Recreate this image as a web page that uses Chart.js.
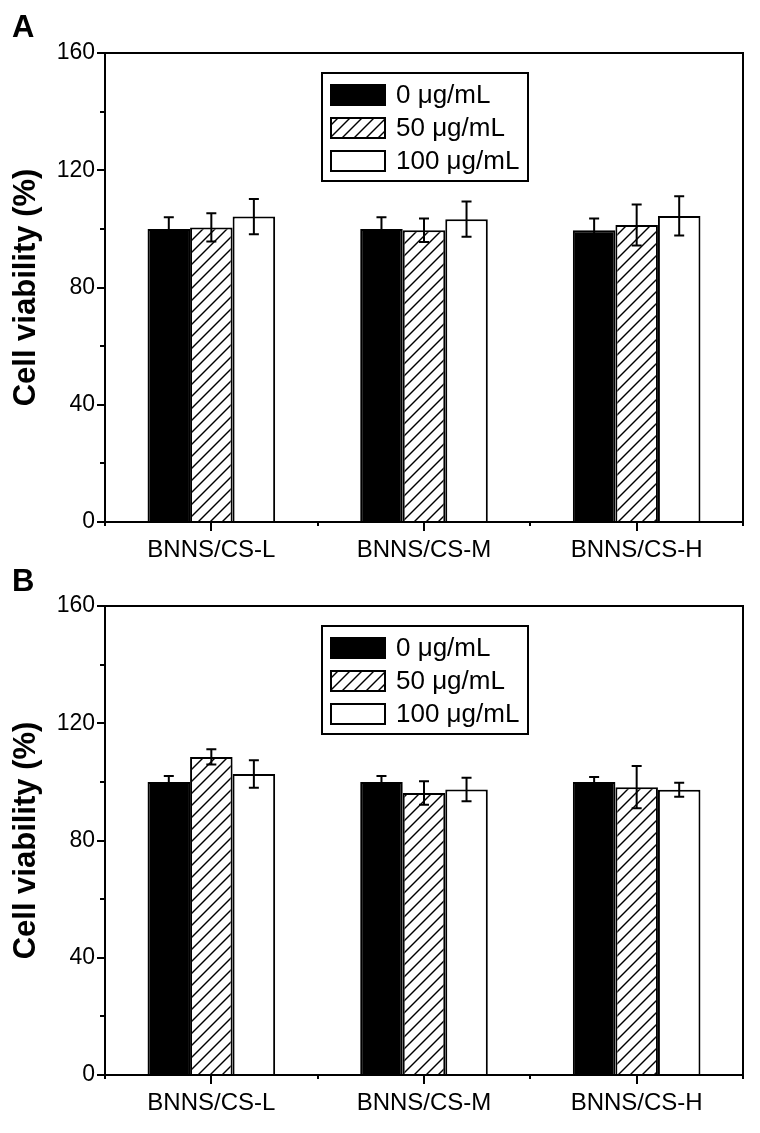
<!DOCTYPE html>
<html>
<head>
<meta charset="utf-8">
<script src="https://cdn.jsdelivr.net/npm/chart.js@4.4.1/dist/chart.umd.min.js"></script>
<style>
    body { margin: 0; background: #fff; width: 760px; height: 1133px; position: relative; overflow: hidden; font-family: 'Liberation Sans', Arial, sans-serif; }
    .panel { position: absolute; left: 0; width: 760px; height: 580px; }
    .panel canvas { display: block; }
    .tag { position: absolute; left: 12px; font-weight: bold; font-size: 31px; line-height: 31px; color: #000; }
</style>
</head>
<body>
<div class="panel" style="top:0"><canvas id="chartA" width="760" height="580"></canvas></div>
<div class="tag" style="top:11px">A</div>
<div class="panel" style="top:553px"><canvas id="chartB" width="760" height="580"></canvas></div>
<div class="tag" style="top:565px">B</div>

<script>
// categories and legend names
const categories = ['BNNS/CS-L', 'BNNS/CS-M', 'BNNS/CS-H'];
const seriesLabels = ['0 μg/mL', '50 μg/mL', '100 μg/mL'];
const yTickLabels = [0, 40, 80, 120, 160];

// panel A values (%) and error bars
const a0 = [100, 100, 99.5];
const a0Err = [4, 4, 4];
const a50 = [100.5, 99.5, 101.3];
const a50Err = [4.8, 4, 7];
const a100 = [104.2, 103.3, 104.4];
const a100Err = [6, 6, 6.7];

// panel B values (%) and error bars
const b0 = [100, 100, 100];
const b0Err = [2, 2, 1.7];
const b50 = [108.5, 96.2, 98.2];
const b50Err = [2.6, 4, 7.2];
const b100 = [102.7, 97.4, 97.3];
const b100Err = [4.7, 4, 2.4];

const fontFamily = "'Liberation Sans', Arial, Helvetica, sans-serif";
Chart.defaults.font.family = fontFamily;
Chart.defaults.color = '#000';

// diagonal "/" hatch used for the 50 ug/mL bars
const makeHatch = () => {
    const c = document.createElement('canvas');
    c.width = 12;
    c.height = 12;
    const g = c.getContext('2d');
    g.fillStyle = '#fff';
    g.fillRect(0, 0, 12, 12);
    g.strokeStyle = '#000';
    g.lineWidth = 1.4;
    [[-3, 15, 15, -3], [-3, 3, 3, -3], [9, 15, 15, 9]].forEach(([x1, y1, x2, y2]) => {
        g.beginPath();
        g.moveTo(x1, y1);
        g.lineTo(x2, y2);
        g.stroke();
    });
    return g.createPattern(c, 'repeat');
};
const hatch = makeHatch();

const errorBars = {
    id: 'errorBars',
    afterDatasetsDraw(chart) {
        const { ctx } = chart;
        const y = chart.scales.y;
        ctx.save();
        ctx.strokeStyle = '#000';
        ctx.lineWidth = 2;
        chart.data.datasets.forEach((ds, i) => {
            chart.getDatasetMeta(i).data.forEach((bar, j) => {
                const top = y.getPixelForValue(ds.data[j] + ds.errors[j]);
                const bot = y.getPixelForValue(ds.data[j] - ds.errors[j]);
                ctx.beginPath();
                ctx.moveTo(bar.x, top);
                ctx.lineTo(bar.x, bot);
                ctx.moveTo(bar.x - 5, top);
                ctx.lineTo(bar.x + 5, top);
                ctx.moveTo(bar.x - 5, bot);
                ctx.lineTo(bar.x + 5, bot);
                ctx.stroke();
            });
        });
        ctx.restore();
    }
};

// box around the plot, outward ticks and the boxed legend
const frame = {
    id: 'frame',
    afterDraw(chart) {
        const { ctx, chartArea: a } = chart;
        const x = chart.scales.x;
        const y = chart.scales.y;
        ctx.save();
        ctx.strokeStyle = '#000';
        ctx.lineWidth = 2;
        ctx.strokeRect(a.left, a.top, a.right - a.left, a.bottom - a.top);

        ctx.beginPath();
        for (let v = 0; v <= 160; v += 20) {
            const py = Math.round(y.getPixelForValue(v));
            const len = yTickLabels.includes(v) ? 8 : 5;
            ctx.moveTo(a.left - len, py);
            ctx.lineTo(a.left, py);
        }
        const step = (a.right - a.left) / categories.length;
        for (let i = 0; i <= categories.length; i++) {
            const px = Math.round(a.left + i * step);
            ctx.moveTo(px, a.bottom);
            ctx.lineTo(px, a.bottom + 4);
        }
        categories.forEach((c, i) => {
            const px = Math.round(x.getPixelForValue(i));
            ctx.moveTo(px, a.bottom);
            ctx.lineTo(px, a.bottom + 9);
        });
        ctx.stroke();

        // legend
        const lx = 322, ly = a.top + 20, lw = 206, lh = 108;
        ctx.fillStyle = '#fff';
        ctx.fillRect(lx, ly, lw, lh);
        ctx.strokeRect(lx, ly, lw, lh);
        ctx.font = '26px ' + fontFamily;
        ctx.textBaseline = 'middle';
        chart.data.datasets.forEach((ds, i) => {
            const cy = ly + 22 + i * 33;
            ctx.fillStyle = ds.backgroundColor;
            ctx.fillRect(331, cy - 10, 54, 20);
            ctx.lineWidth = 2;
            ctx.strokeRect(331, cy - 10, 54, 20);
            ctx.fillStyle = '#000';
            ctx.fillText(ds.label, 396, cy + 1);
        });
        ctx.restore();
    }
};

const makeChart = (id, d0, e0, d50, e50, d100, e100) => new Chart(document.getElementById(id), {
    type: 'bar',
    data: {
        labels: categories,
        datasets: [
            { label: seriesLabels[0], data: d0, errors: e0, backgroundColor: '#000' },
            { label: seriesLabels[1], data: d50, errors: e50, backgroundColor: hatch },
            { label: seriesLabels[2], data: d100, errors: e100, backgroundColor: '#fff' }
        ].map((ds) => ({
            ...ds,
            borderColor: '#000',
            borderWidth: 2,
            categoryPercentage: 0.6,
            barPercentage: 1.0
        }))
    },
    options: {
        responsive: false,
        animation: false,
        layout: { padding: { top: 53, right: 17, left: 0, bottom: 0 } },
        plugins: {
            legend: { display: false },
            tooltip: { enabled: false }
        },
        scales: {
            x: {
                grid: { display: false, drawTicks: false },
                border: { display: false },
                ticks: { color: '#000', font: { size: 24 }, padding: 14, maxRotation: 0 },
                afterFit: (s) => { s.height = 58; }
            },
            y: {
                min: 0,
                max: 160,
                grid: { display: false, drawTicks: false },
                border: { display: false },
                ticks: {
                    stepSize: 20,
                    color: '#000',
                    font: { size: 23 },
                    padding: 10,
                    callback: (v) => (yTickLabels.includes(v) ? v : '')
                },
                title: {
                    display: true,
                    text: 'Cell viability (%)',
                    color: '#000',
                    font: { size: 31, weight: 'bold' },
                    padding: { top: 8, bottom: 0 }
                },
                afterFit: (s) => { s.width = 105; }
            }
        }
    },
    plugins: [errorBars, frame]
});

makeChart('chartA', a0, a0Err, a50, a50Err, a100, a100Err);
makeChart('chartB', b0, b0Err, b50, b50Err, b100, b100Err);
</script>
</body>
</html>
